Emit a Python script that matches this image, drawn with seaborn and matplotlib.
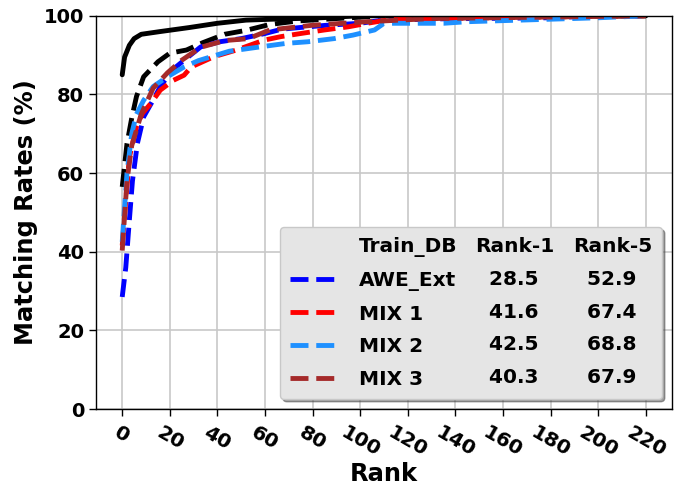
import matplotlib
matplotlib.use('Agg')
import matplotlib.pyplot as plt
from matplotlib.lines import Line2D
import seaborn as sns

# CMC curves (rank index, matching rate in %)
solid_rank = [0, 1, 3, 5, 8, 16, 28, 40, 52, 66, 80, 100, 220]
solid_rate = [85.0, 89.5, 92.5, 94.2, 95.3, 96.0, 97.0, 98.1, 98.9, 99.2, 99.4, 100.0, 100.0]

dash_rank = [0, 2, 4, 6, 9, 15, 20, 27, 34, 43, 52, 62, 74, 90, 110, 220]
dash_rate = [56.5, 67.5, 74.0, 79.5, 84.5, 88.3, 90.5, 91.3, 93.2, 95.3, 96.3, 97.8, 98.7, 99.3, 100.0, 100.0]

awe_rank = [0, 1.5, 3, 4.3, 6.4, 9, 13, 16, 21, 26, 33, 41, 50, 60, 67, 78, 86, 100, 107, 130, 180, 200, 220]
awe_rate = [28.5, 36.0, 48.0, 58.0, 67.6, 74.3, 78.6, 82.0, 86.2, 88.7, 92.1, 93.4, 94.2, 95.5, 96.6, 97.2,
            97.6, 98.1, 98.7, 99.2, 99.5, 100.0, 100.0]

mix1_rank = [0, 1.5, 3, 6, 8.5, 12, 16, 21.5, 26, 29, 38.5, 48, 59.5, 66.6, 75, 85, 95, 103, 114, 134, 180, 220]
mix1_rate = [41.6, 53.0, 64.0, 71.8, 75.2, 77.7, 81.1, 83.6, 84.9, 87.0, 89.6, 91.3, 93.8, 94.7, 95.5, 96.4,
             97.2, 98.1, 99.2, 99.3, 99.7, 100.0]

mix2_rank = [0, 2, 4, 6, 9, 13, 19, 26, 32, 45, 58, 69, 78, 89, 97, 106, 110, 135, 145, 200, 220]
mix2_rate = [42.5, 60.0, 70.0, 75.0, 78.5, 82.0, 84.5, 87.0, 88.6, 91.0, 92.1, 93.0, 93.4, 94.2, 95.1, 96.4,
             98.1, 98.1, 98.5, 99.5, 100.0]

mix3_rank = [0, 2, 4, 8, 13, 19, 25, 33, 43, 53, 62, 80, 103, 130, 220]
mix3_rate = [40.3, 58.0, 67.0, 75.0, 81.6, 85.5, 88.7, 92.0, 93.7, 94.2, 96.4, 97.6, 98.5, 99.3, 100.0]

train_db = ['AWE_Ext', 'MIX 1', 'MIX 2', 'MIX 3']
rank1 = ['28.5', '41.6', '42.5', '40.3']
rank5 = ['52.9', '67.4', '68.8', '67.9']
colors = ['blue', 'red', 'dodgerblue', 'brown']

sns.set_style('whitegrid')
plt.rcParams['font.family'] = ['DejaVu Sans']
plt.rcParams['font.weight'] = 'bold'
plt.rcParams['axes.labelweight'] = 'bold'
for key in ['text.color', 'axes.labelcolor', 'xtick.color', 'ytick.color']:
    plt.rcParams[key] = 'black'

fig, ax = plt.subplots(figsize=(6.83, 4.94), dpi=100)
fig.subplots_adjust(left=0.1406, right=0.984, top=0.968, bottom=0.172)

lw = 3.5
sns.lineplot(x=solid_rank, y=solid_rate, ax=ax, color='black', lw=lw, linestyle='-')
sns.lineplot(x=dash_rank, y=dash_rate, ax=ax, color='black', lw=lw, linestyle='--')

series = [(awe_rank, awe_rate), (mix1_rank, mix1_rate), (mix2_rank, mix2_rate), (mix3_rank, mix3_rate)]
curve_handles = []
for (r, v), c in zip(series, colors):
    sns.lineplot(x=r, y=v, ax=ax, color=c, lw=lw, linestyle='--')
    curve_handles.append(Line2D([], [], color=c, lw=lw, linestyle='--'))

ax.set_ylim(0, 100)
ax.set_yticks([0, 20, 40, 60, 80, 100])
ax.set_xticks(range(0, 221, 20))
ax.grid(True, color='#c8c8c8', lw=1.2)
for s in ax.spines.values():
    s.set_color('black')
    s.set_linewidth(1.0)
ax.tick_params(bottom=True, left=True, length=5, width=1, color='black')
ax.tick_params(axis='x', labelsize=14.5, pad=5)
ax.tick_params(axis='y', labelsize=14)
for lab in ax.get_xticklabels():
    lab.set_rotation(-30)
    lab.set_ha('center')
    lab.set_fontweight('bold')
for lab in ax.get_yticklabels():
    lab.set_fontweight('bold')

ax.set_xlabel('Rank', fontsize=17.4, fontweight='bold', labelpad=1)
ax.set_ylabel('Matching Rates (%)', fontsize=17.4, fontweight='bold')

# table-like legend: 3 columns, blank handles for header and number columns
blank = Line2D([], [], linestyle='none')
handles = [blank] + curve_handles + [blank] * 5 + [blank] * 5
labels = (['Train_DB'] + train_db
          + ['Rank-1'] + ['  ' + x for x in rank1]
          + ['Rank-5'] + ['  ' + x for x in rank5])
leg = ax.legend(handles, labels, ncol=3, loc='lower right',
                handlelength=2.4, handletextpad=1.0, columnspacing=-2.5,
                labelspacing=0.68, borderpad=0.5,
                frameon=True, fancybox=True, shadow=True, framealpha=1,
                facecolor='#e5e5e5', edgecolor='#c8c8c8', prop={'weight': 'bold', 'size': 14.5})

fig.savefig('out.png', dpi=100)
